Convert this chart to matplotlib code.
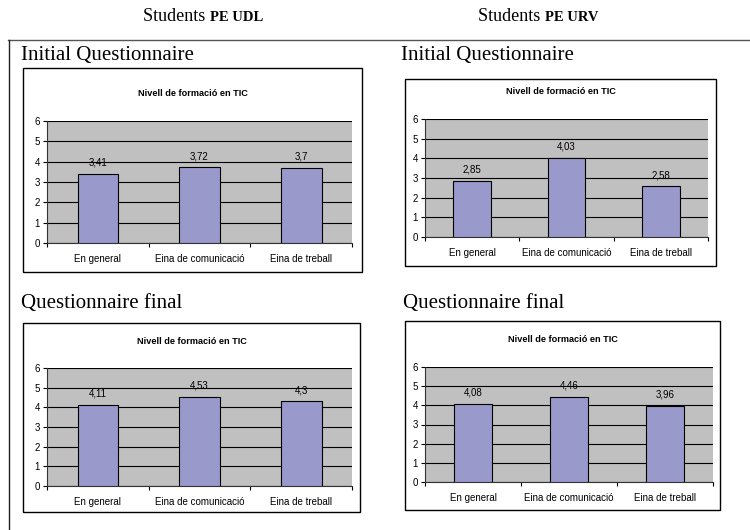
import matplotlib
matplotlib.use("Agg")
import matplotlib.pyplot as plt
from matplotlib.patches import Rectangle
from matplotlib.lines import Line2D

# ---------------- data ----------------
categories = ["En general", "Eina de comunicació", "Eina de treball"]
udl_initial = [3.41, 3.72, 3.70]
urv_initial = [2.85, 4.03, 2.58]
udl_final = [4.11, 4.53, 4.30]
urv_final = [4.08, 4.46, 3.96]
y_ticks = [0, 1, 2, 3, 4, 5, 6]
chart_title = "Nivell de formació en TIC"
header_left = ("Students ", "PE UDL")
header_right = ("Students ", "PE URV")
section_initial = "Initial Questionnaire"
section_final = "Questionnaire final"

W, H = 750, 530
fig = plt.figure(figsize=(7.5, 5.3), dpi=100)
fig.patch.set_facecolor("white")

SERIF = ["Liberation Serif", "DejaVu Serif"]
SANS = ["Liberation Sans", "DejaVu Sans"]
BAR = "#9999CC"
BG = "#C0C0C0"


def fx(x):
    return x / W


def fy(y):
    return 1 - y / H


def label_fmt(v):
    s = f"{v:.2f}".rstrip("0").rstrip(".")
    return s.replace(".", ",")


# outer frame lines
fig.add_artist(Line2D([fx(8), fx(750)], [fy(40), fy(40)], color="#555555", lw=1.0))
fig.add_artist(Line2D([fx(9), fx(9)], [fy(40), fy(530)], color="#222222", lw=1.0))

# headers
fig.canvas.draw()
renderer = fig.canvas.get_renderer()
for x0, (a, b) in [(143, header_left), (478, header_right)]:
    t1 = fig.text(fx(x0), fy(21), a, fontsize=13, family=SERIF, va="baseline", ha="left")
    bb = t1.get_window_extent(renderer=renderer)
    fig.text(bb.x1 / fig.dpi / fig.get_figwidth(), fy(21), b, fontsize=10.5,
             family=SERIF, fontweight="bold", va="baseline", ha="left")

# section titles
for x0, y0, s in [(21, 60, section_initial), (401, 60, section_initial),
                  (21, 308, section_final), (403, 308, section_final)]:
    fig.text(fx(x0), fy(y0), s, fontsize=15, family=SERIF, va="baseline", ha="left")

# charts: box (x0,y0,x1,y1), plot (x0,y0,x1,y1), title y, data
charts = [
    ((23, 68, 362, 272), (47, 121, 352, 243), 93, udl_initial),
    ((405, 79, 716, 266), (425, 119, 708, 237), 91, urv_initial),
    ((23, 323, 360, 512), (47, 368, 352, 486), 342, udl_final),
    ((405, 321, 720, 510), (425, 367, 713, 482), 340, urv_final),
]

for box, plot, ty, vals in charts:
    bx0, by0, bx1, by1 = box
    fig.add_artist(Rectangle((fx(bx0), fy(by1)), fx(bx1 - bx0), (by1 - by0) / H,
                             facecolor="white", edgecolor="black", lw=1.0, zorder=0))
    fig.text(fx((bx0 + bx1) / 2), fy(ty), chart_title, fontsize=6.6, family=SANS,
             fontweight="bold", ha="center", va="center")
    px0, py0, px1, py1 = plot
    ax = fig.add_axes([fx(px0), fy(py1), fx(px1 - px0), (py1 - py0) / H])
    ax.set_facecolor(BG)
    xs = list(range(len(categories)))
    ax.bar(xs, vals, width=0.4, color=BAR, edgecolor="black", lw=0.8, zorder=3)
    for i, v in enumerate(vals):
        ax.annotate(label_fmt(v), (i, v), xytext=(0, 4.5), textcoords="offset points",
                    ha="center", va="bottom", fontsize=7, family=SANS, zorder=4)
    ax.set_xlim(-0.5, len(categories) - 0.5)
    ax.set_ylim(y_ticks[0], y_ticks[-1])
    ax.set_yticks(y_ticks)
    ax.set_yticklabels([str(t) for t in y_ticks], fontsize=7, family=SANS)
    ax.yaxis.grid(True, color="black", lw=0.8, zorder=1)
    ax.set_axisbelow(True)
    ax.set_xticks([i - 0.5 for i in range(len(categories) + 1)])
    ax.set_xticklabels([])
    ax.set_xticks(xs, minor=True)
    ax.set_xticklabels(categories, minor=True, fontsize=7, family=SANS)
    ax.tick_params(axis="x", which="minor", length=0, pad=8)
    ax.tick_params(axis="x", which="major", length=3, width=0.8, direction="out")
    ax.tick_params(axis="y", length=3, width=0.8, direction="out", pad=2)
    for s in ["top", "right"]:
        ax.spines[s].set_visible(False)
    for s in ["left", "bottom"]:
        ax.spines[s].set_color("#333333")
        ax.spines[s].set_linewidth(0.8)

fig.savefig("out.png", dpi=100, facecolor="white")
